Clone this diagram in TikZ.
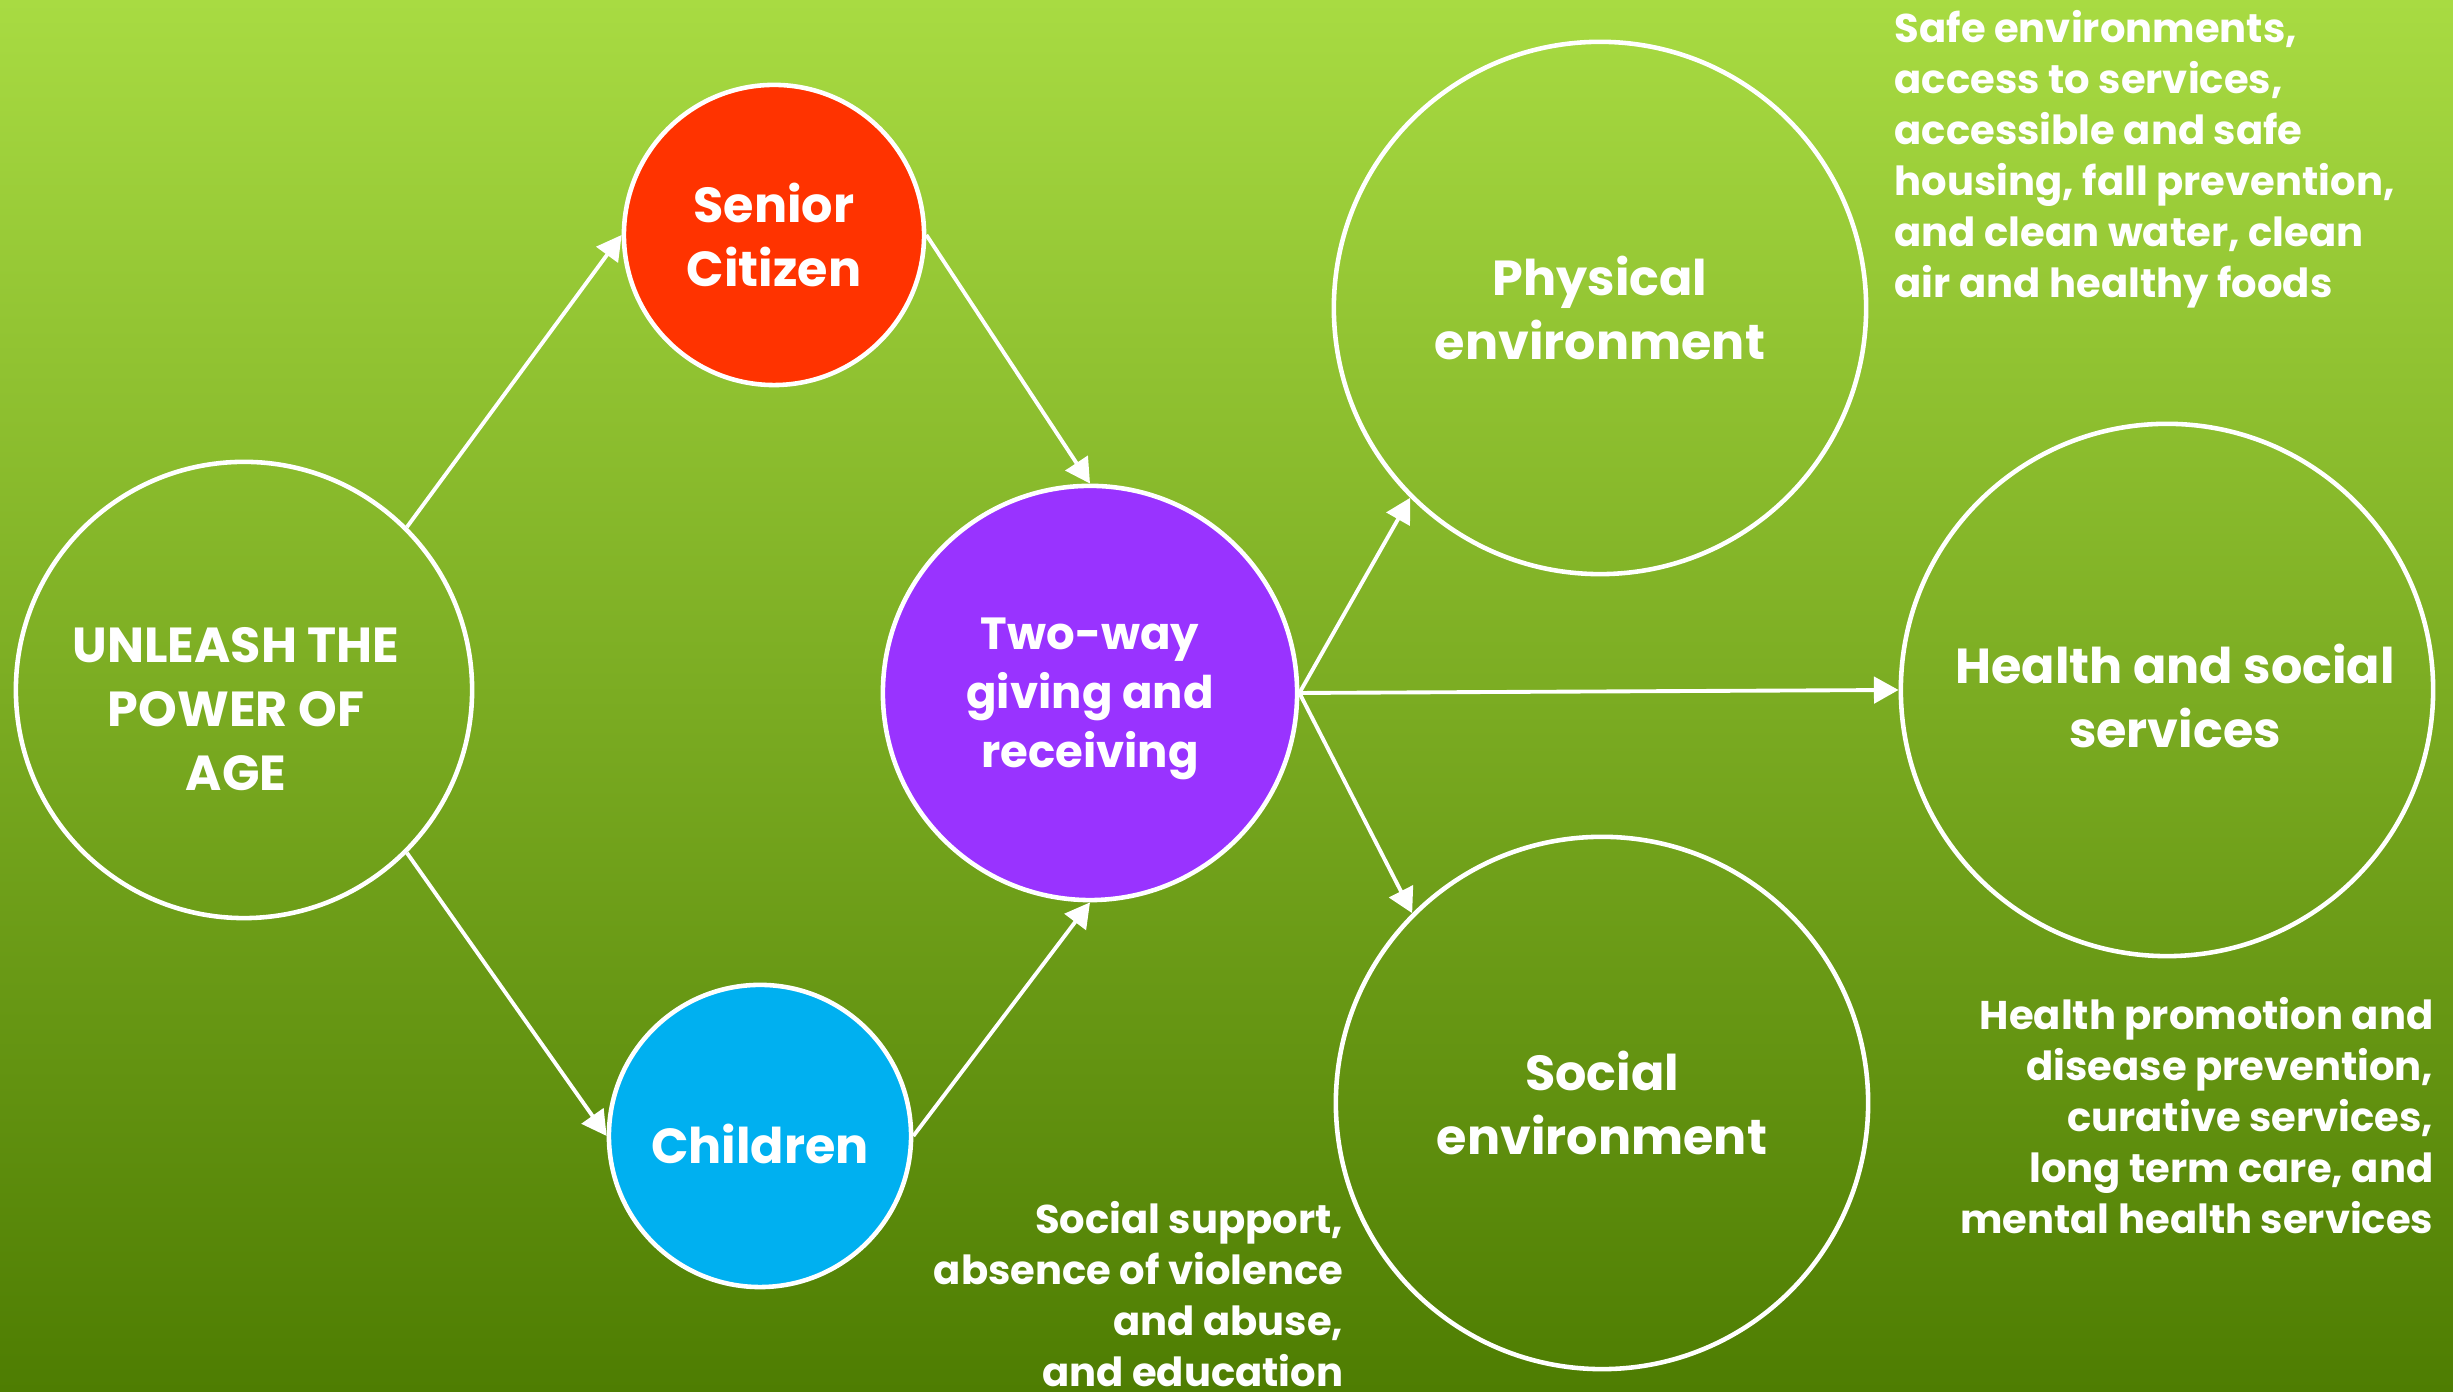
\documentclass[tikz,border=0pt]{standalone}
\usepackage{fontspec}
\setmainfont{Poppins}
\usetikzlibrary{arrows.meta}

\definecolor{bgtop}{HTML}{A8DB42}
\definecolor{bgbot}{HTML}{4E7D02}
\definecolor{seniorred}{HTML}{FF3300}
\definecolor{childblue}{HTML}{00B0F0}
\definecolor{givepurple}{HTML}{9933FF}

\def\sc{0.01cm}

\tikzset{
  bubble/.style={circle, draw=white, line width=1.3pt, text=white, align=center,
    inner sep=0pt, font=\bfseries\fontsize{14}{18.2}\selectfont},
  bubbletext/.style={text=white, align=center, inner sep=0pt,
    font=\bfseries\fontsize{14}{18.2}\selectfont},
  note/.style={text=white, inner sep=0pt, font=\bfseries\fontsize{11.4}{14.5}\selectfont},
  link/.style={draw=white, line width=1.1pt, -{Triangle[length=7pt,width=7.5pt]}},
}

\begin{document}
\begin{tikzpicture}[x=\sc,y=\sc]
\useasboundingbox (0,0) rectangle (2453,1392);
% background
\shade [top color=bgtop, bottom color=bgbot] (0,0) rectangle (2453,1392);
% left half: who gives and who receives
% (some texts sit a little off the middle of their circle)
\node (age) at (244,702) [bubble, minimum size=4.56cm,
  label={[bubbletext, xshift=-0.08cm, yshift=-0.19cm]center:{UNLEASH THE\\POWER OF\\AGE}}] {};
\node (senior) at (774,1157) [bubble, fill=seniorred, minimum size=3cm] {Senior\\Citizen};
\node (child) at (760,256) [bubble, fill=childblue, minimum size=3.02cm,
  label={[bubbletext, yshift=-0.08cm]center:Children}] {};
\node (give) at (1090,699) [bubble, fill=givepurple, minimum size=4.14cm,
  label={[bubbletext, yshift=-0.06cm, font=\bfseries\fontsize{12.8}{16.7}\selectfont]center:{Two-way\\giving and\\receiving}}] {};
% right half: the three environments
\node (phys) at (1600,1084) [bubble, minimum size=5.32cm] {Physical\\environment};
\node (health) at (2167,702) [bubble, minimum size=5.32cm,
  label={[bubbletext, xshift=0.08cm, yshift=-0.06cm]center:{Health and social\\services}}] {};
\node (social) at (1602,289) [bubble, minimum size=5.32cm] {Social\\environment};
% arrows
\draw [link] (age.45) -- (senior.west);
\draw [link] (age.-45) -- (child.west);
\draw [link] (senior.east) -- (give.north);
\draw [link] (child.east) -- (give.south);
\draw [link] (give.east) -- (phys.225);
\draw [link] (give.east) -- (health.west);
\draw [link] (give.east) -- (social.135);
% notes
\node (physnote) at (1894,1382) [note, anchor=north west, align=left]
  {Safe environments,\\access to services,\\accessible and safe\\housing, fall prevention,\\and clean water, clean\\air and healthy foods};
\node (healthnote) at (2434,395) [note, anchor=north east, align=right]
  {Health promotion and\\disease prevention,\\curative services,\\long term care, and\\mental health services};
\node (socialnote) at (1344,191) [note, anchor=north east, align=right]
  {Social support,\\absence of violence\\and abuse,\\and education};
\end{tikzpicture}
\end{document}
